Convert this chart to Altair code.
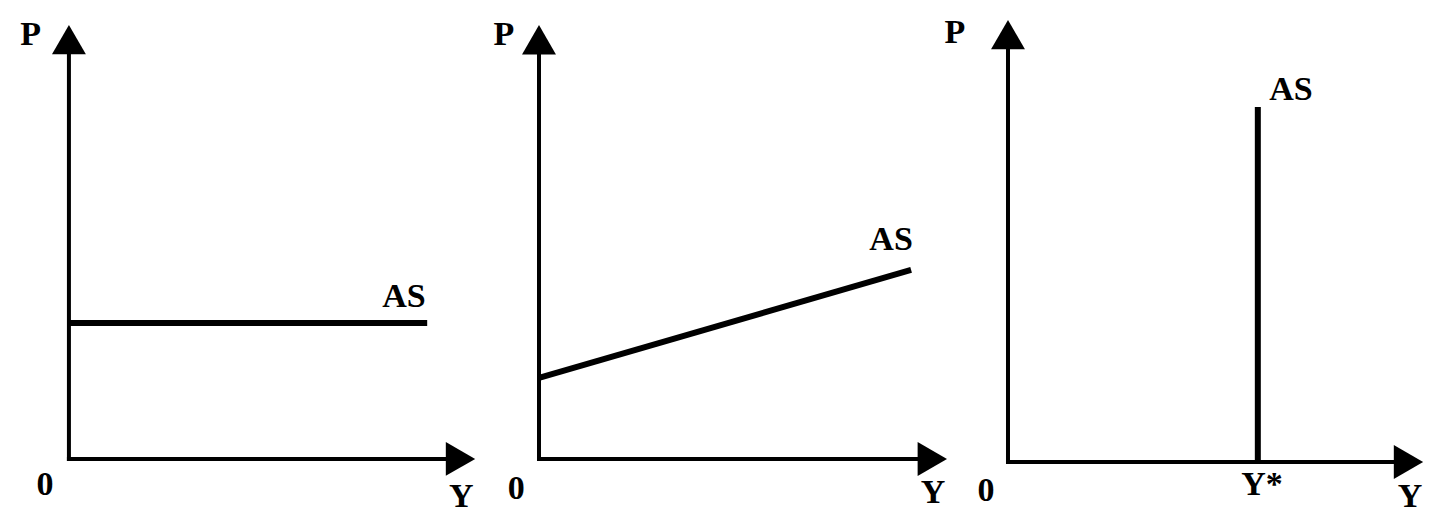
import altair as alt
import pandas as pd

FONT = "Liberation Serif"

# AS curves (economic units; axis length to arrow tip = 10)
as1_x = [0.0, 8.82]
as1_y = [3.13, 3.13]
as2_x = [0.0, 9.12]
as2_y = [1.87, 4.36]
as3_x = [6.02, 6.02]
as3_y = [0.0, 8.03]

label_text = [["P", "0", "Y", "AS"],
              ["P", "0", "Y", "AS"],
              ["P", "0", "Y", "Y*", "AS"]]
label_x = [[-0.94, -0.59, 9.66, 8.25],
           [-0.86, -0.56, 9.66, 8.63],
           [-1.28, -0.53, 9.69, 6.12, 6.82]]
label_y = [[9.77, -0.60, -0.88, 3.73],
           [9.77, -0.69, -0.78, 5.05],
           [9.71, -0.66, -0.79, -0.52, 8.42]]

axis_end_x = [9.64, 9.64, 9.65]
axis_end_y = [9.66, 9.66, 9.67]

x_domains = [[-1.50, 10.12], [-1.446, 10.196], [-1.277, 10.217]]
y_domains = [[-1.27, 10.39], [-1.267, 10.392], [-1.176, 10.271]]
widths = [472, 475, 477]
HEIGHT = 506


def panel(i, as_x, as_y):
    xs = alt.Scale(domain=x_domains[i], nice=False, zero=False)
    ys = alt.Scale(domain=y_domains[i], nice=False, zero=False)

    axes_df = pd.DataFrame({
        "x": [0.0, 0.0], "y": [0.0, 0.0],
        "x2": [axis_end_x[i], 0.0], "y2": [0.0, axis_end_y[i]],
    })
    axes = alt.Chart(axes_df).mark_rule(
        color="black", strokeWidth=4, strokeCap="square"
    ).encode(
        x=alt.X("x:Q", scale=xs, axis=None),
        y=alt.Y("y:Q", scale=ys, axis=None),
        x2="x2:Q", y2="y2:Q",
    )

    arrows_df = pd.DataFrame({
        "x": [axis_end_x[i], 0.0], "y": [0.0, axis_end_y[i]],
        "shape": ["triangle-right", "triangle-up"],
    })
    arrows = alt.Chart(arrows_df).mark_point(
        filled=True, color="black", size=1150, opacity=1
    ).encode(
        x=alt.X("x:Q", scale=xs, axis=None),
        y=alt.Y("y:Q", scale=ys, axis=None),
        shape=alt.Shape("shape:N", scale=None),
    )

    curve_df = pd.DataFrame({"x": as_x, "y": as_y})
    curve = alt.Chart(curve_df).mark_line(
        color="black", strokeWidth=6
    ).encode(
        x=alt.X("x:Q", scale=xs, axis=None),
        y=alt.Y("y:Q", scale=ys, axis=None),
    )

    text_df = pd.DataFrame({"t": label_text[i], "x": label_x[i], "y": label_y[i]})
    texts = alt.Chart(text_df).mark_text(
        font=FONT, fontWeight="bold", fontSize=34, color="black",
        align="center", baseline="middle"
    ).encode(
        x=alt.X("x:Q", scale=xs, axis=None),
        y=alt.Y("y:Q", scale=ys, axis=None),
        text="t:N",
    )

    return alt.layer(axes, curve, arrows, texts).properties(
        width=widths[i], height=HEIGHT
    )


chart = alt.hconcat(
    panel(0, as1_x, as1_y),
    panel(1, as2_x, as2_y),
    panel(2, as3_x, as3_y),
    spacing=0,
    bounds="flush",
).properties(padding=0, background="white").configure_view(stroke=None, strokeWidth=0)

chart.save("out.html", embed_options={"renderer": "svg", "actions": False})
